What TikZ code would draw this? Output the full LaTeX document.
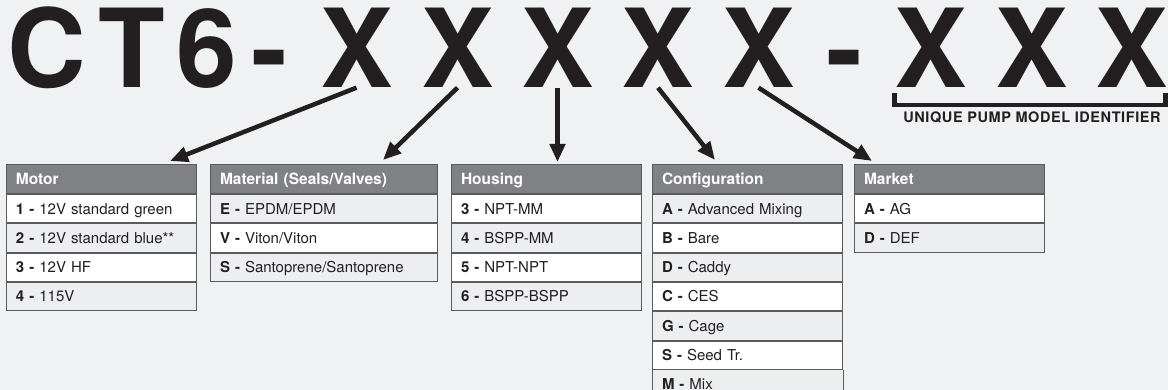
\documentclass[tikz,border=0pt]{standalone}
\usepackage{fontspec}
\setmainfont{TeX Gyre Heros}
\usetikzlibrary{arrows.meta}
\definecolor{bg}{HTML}{F0F1F3}
\definecolor{ink}{HTML}{231F20}
\definecolor{hdrgrey}{HTML}{808184}
\definecolor{linegrey}{HTML}{5A5B5D}
\definecolor{rowgrey}{HTML}{EDEEF0}
\begin{document}
\begin{tikzpicture}[x=1pt,y=-1pt,
  big/.style={font=\fontsize{109}{109}\selectfont\bfseries, text=ink, inner sep=0pt, anchor=base},
  hdr/.style={anchor=north west, fill=hdrgrey, draw=linegrey, line width=1pt, text=white,
    font=\fontsize{15.5}{16}\selectfont\bfseries, inner xsep=9.5pt, inner ysep=0pt,
    minimum height=29pt, text height=11pt, text depth=0pt, align=left},
  cellbox/.style={anchor=north west, draw=linegrey, line width=1pt, text=ink,
    font=\fontsize{15}{16}\selectfont, inner xsep=9.5pt, inner ysep=0pt,
    minimum height=28.3pt, text height=10.8pt, text depth=0pt, align=left},
  whiterow/.style={cellbox, fill=white},
  greyrow/.style={cellbox, fill=rowgrey},
  pointer/.style={draw=ink, line width=4.5pt, -{Triangle[length=18pt,width=15pt]}}
]
\useasboundingbox (0,0) rectangle (1168,390);
\fill[bg] (0,0) rectangle (1168,390);

% model code
\node[big] (c1) at (46.5,87.5) {C};
\node[big] (c2) at (131.5,87.5) {T};
\node[big] (c3) at (206.5,87.5) {6};
\node[big] (d1) at (270,87.5) {-};
\node[big] (x1) at (356.5,87.5) {X};
\node[big] (x2) at (457.5,87.5) {X};
\node[big] (x3) at (557.5,87.5) {X};
\node[big] (x4) at (658,87.5) {X};
\node[big] (x5) at (758.5,87.5) {X};
\node[big] (d2) at (845,87.5) {-};
\node[big] (x6) at (931,87.5) {X};
\node[big] (x7) at (1032,87.5) {X};
\node[big] (x8) at (1132,87.5) {X};

% bracket
\draw[ink, line width=4.5pt, line join=miter] (894.5,93) -- (894.5,105) -- (1165.5,105) -- (1165.5,93);
\node[text=ink, inner sep=0pt, font=\fontsize{14.5}{15}\selectfont\bfseries\addfontfeature{LetterSpace=4}] (uid) at (1032,117) {UNIQUE PUMP MODEL IDENTIFIER};

% Motor
\node[hdr, text width=171pt] (motor) at (6,164) {Motor};
\node[whiterow, text width=171pt, at=(motor.south west)] (motor1) {\textbf{1 -} 12V standard green};
\node[greyrow, text width=171pt, at=(motor1.south west)] (motor2) {\textbf{2 -} 12V standard blue**};
\node[whiterow, text width=171pt, at=(motor2.south west)] (motor3) {\textbf{3 -} 12V HF};
\node[greyrow, text width=171pt, at=(motor3.south west)] (motor4) {\textbf{4 -} 115V};

% Material
\node[hdr, text width=208pt] (mat) at (210,164) {Material (Seals/Valves)};
\node[greyrow, text width=208pt, at=(mat.south west)] (mat1) {\textbf{E -} EPDM/EPDM};
\node[whiterow, text width=208pt, at=(mat1.south west)] (mat2) {\textbf{V -} Viton/Viton};
\node[greyrow, text width=208pt, at=(mat2.south west)] (mat3) {\textbf{S -} Santoprene/Santoprene};

% Housing
\node[hdr, text width=171pt] (hous) at (451,164) {Housing};
\node[whiterow, text width=171pt, at=(hous.south west)] (hous1) {\textbf{3 -} NPT-MM};
\node[greyrow, text width=171pt, at=(hous1.south west)] (hous2) {\textbf{4 -} BSPP-MM};
\node[whiterow, text width=171pt, at=(hous2.south west)] (hous3) {\textbf{5 -} NPT-NPT};
\node[greyrow, text width=171pt, at=(hous3.south west)] (hous4) {\textbf{6 -} BSPP-BSPP};

% Configuration
\node[hdr, text width=171pt] (conf) at (652,164) {Configuration};
\node[greyrow, text width=171pt, at=(conf.south west)] (conf1) {\textbf{A -} Advanced Mixing};
\node[whiterow, text width=171pt, at=(conf1.south west)] (conf2) {\textbf{B -} Bare};
\node[greyrow, text width=171pt, at=(conf2.south west)] (conf3) {\textbf{D -} Caddy};
\node[whiterow, text width=171pt, at=(conf3.south west)] (conf4) {\textbf{C -} CES};
\node[greyrow, text width=171pt, at=(conf4.south west)] (conf5) {\textbf{G -} Cage};
\node[whiterow, text width=171pt, at=(conf5.south west)] (conf6) {\textbf{S -} Seed Tr.};
\node[greyrow, draw=none, text width=171pt, minimum height=26.6pt, at=(conf6.south west)] (conf7) {\textbf{M -} Mix};
\draw[linegrey, line width=1pt] (conf7.north west) -- ++(0,30) (conf7.north east) -- ++(0,30);

% Market
\node[hdr, text width=171pt] (mark) at (854,164) {Market};
\node[whiterow, text width=171pt, at=(mark.south west)] (mark1) {\textbf{A -} AG};
\node[greyrow, text width=171pt, at=(mark1.south west)] (mark2) {\textbf{D -} DEF};

% pointers
\coordinate (t1) at (170,161);
\coordinate (t2) at (383,160);
\coordinate (t3) at (557.5,162);
\coordinate (t4) at (715,160);
\coordinate (t5) at (872,161);
\draw[pointer] (x1.south) -- (t1);
\draw[pointer] (x2.south) -- (t2);
\draw[pointer] (x3.south) -- (t3);
\draw[pointer] (x4.south) -- (t4);
\draw[pointer] (x5.south) -- (t5);
\end{tikzpicture}
\end{document}
